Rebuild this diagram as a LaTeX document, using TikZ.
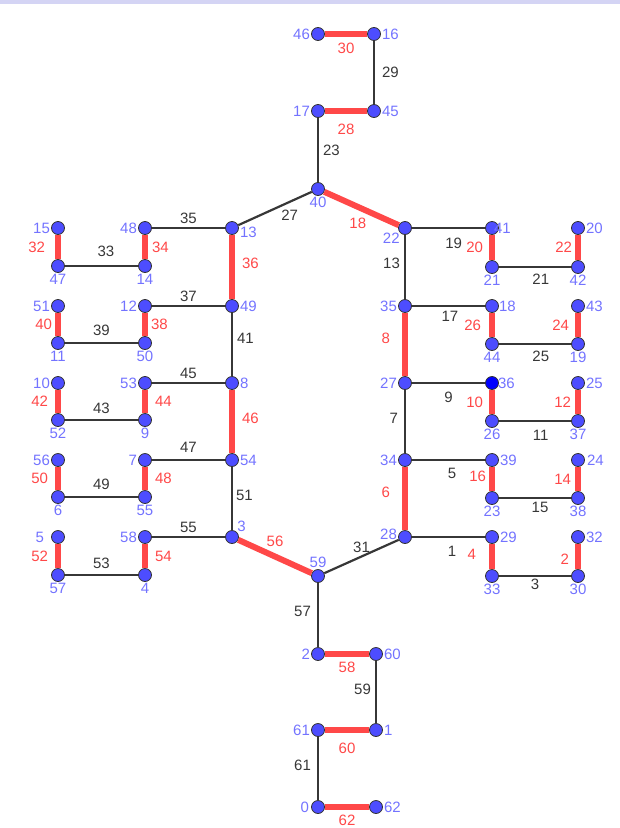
\documentclass[tikz,border=0pt]{standalone}
\usepackage{fontspec}
\setmainfont{Liberation Sans}
\definecolor{vblue}{RGB}{77,77,255}
\definecolor{lblue}{RGB}{115,115,255}
\definecolor{ered}{RGB}{255,72,72}
\definecolor{egray}{RGB}{55,55,55}
\definecolor{strip}{RGB}{212,212,244}
\begin{document}
\begin{tikzpicture}[x=1pt, y=-1pt,
  every node/.style={font=\fontsize{15}{17}\selectfont, inner sep=1pt},
  vertex/.style={circle, draw=black!80, fill=vblue, line width=0.8pt, minimum size=13pt, inner sep=0pt, label distance=3pt},
  vlab/.style={text=lblue},
  blackedge/.style={draw=egray, line width=2.2pt},
  rededge/.style={draw=ered, line width=6pt},
  blab/.style={text=egray},
  rlab/.style={text=ered}]
  \useasboundingbox (0,0) rectangle (620,828);
  \fill [strip] (0,0) rectangle (620,4);
  \node [vertex, label={[vlab]left:46}] (46) at (318,34) {};
  \node [vertex, label={[vlab]right:16}] (16) at (374,34) {};
  \node [vertex, label={[vlab]left:17}] (17) at (318,111) {};
  \node [vertex, label={[vlab]right:45}] (45) at (374,111) {};
  \node [vertex, label={[vlab]below:40}] (40) at (318,189) {};
  \node [vertex, label={[vlab,label distance=-1pt]below left:22}] (22) at (405,228) {};
  \node [vertex, label={[vlab,yshift=-4pt]right:13}] (13) at (232,228) {};
  \node [vertex, label={[vlab]right:49}] (49) at (232,306) {};
  \node [vertex, label={[vlab]right:8}] (8) at (232,383) {};
  \node [vertex, label={[vlab]right:54}] (54) at (232,460) {};
  \node [vertex, label={[vlab,label distance=-1pt]above right:3}] (3) at (232,537) {};
  \node [vertex, label={[vlab]left:48}] (48) at (145,228) {};
  \node [vertex, label={[vlab]below:14}] (14) at (145,266) {};
  \node [vertex, label={[vlab]left:12}] (12) at (145,306) {};
  \node [vertex, label={[vlab]below:50}] (50) at (145,343) {};
  \node [vertex, label={[vlab]left:53}] (53) at (145,383) {};
  \node [vertex, label={[vlab]below:9}] (9) at (145,420) {};
  \node [vertex, label={[vlab]left:7}] (7) at (145,460) {};
  \node [vertex, label={[vlab]below:55}] (55) at (145,497) {};
  \node [vertex, label={[vlab]left:58}] (58) at (145,537) {};
  \node [vertex, label={[vlab]below:4}] (4) at (145,575) {};
  \node [vertex, label={[vlab]left:15}] (15) at (58,228) {};
  \node [vertex, label={[vlab]below:47}] (47) at (58,266) {};
  \node [vertex, label={[vlab]left:51}] (51) at (58,306) {};
  \node [vertex, label={[vlab]below:11}] (11) at (58,343) {};
  \node [vertex, label={[vlab,label distance=0pt]left:10}] (10) at (58,383) {};
  \node [vertex, label={[vlab]below:52}] (52) at (58,420) {};
  \node [vertex, label={[vlab,label distance=0pt]left:56}] (56) at (58,460) {};
  \node [vertex, label={[vlab]below:6}] (6) at (58,497) {};
  \node [vertex, label={[vlab,label distance=6pt]left:5}] (5) at (58,537) {};
  \node [vertex, label={[vlab]below:57}] (57) at (58,575) {};
  \node [vertex, label={[vlab]left:35}] (35) at (405,306) {};
  \node [vertex, label={[vlab]left:27}] (27) at (405,383) {};
  \node [vertex, label={[vlab]left:34}] (34) at (405,460) {};
  \node [vertex, label={[vlab,yshift=3pt]left:28}] (28) at (405,537) {};
  \node [vertex, label={[vlab,label distance=-6pt]right:41}] (41) at (492,228) {};
  \node [vertex, label={[vlab]below:21}] (21) at (492,267) {};
  \node [vertex, label={[vlab,label distance=-1pt]right:18}] (18) at (492,306) {};
  \node [vertex, label={[vlab]below:44}] (44) at (492,344) {};
  \node [vertex, fill=blue, label={[vlab,label distance=-2pt]right:36}] (36) at (492,383) {};
  \node [vertex, label={[vlab]below:26}] (26) at (492,421) {};
  \node [vertex, label={[vlab]right:39}] (39) at (492,460) {};
  \node [vertex, label={[vlab]below:23}] (23) at (492,498) {};
  \node [vertex, label={[vlab]right:29}] (29) at (492,537) {};
  \node [vertex, label={[vlab]below:33}] (33) at (492,576) {};
  \node [vertex, label={[vlab]right:20}] (20) at (578,228) {};
  \node [vertex, label={[vlab]below:42}] (42) at (578,267) {};
  \node [vertex, label={[vlab]right:43}] (43) at (578,306) {};
  \node [vertex, label={[vlab]below:19}] (19) at (578,344) {};
  \node [vertex, label={[vlab]right:25}] (25) at (578,383) {};
  \node [vertex, label={[vlab]below:37}] (37) at (578,421) {};
  \node [vertex, label={[vlab,label distance=1pt]right:24}] (24) at (578,460) {};
  \node [vertex, label={[vlab]below:38}] (38) at (578,498) {};
  \node [vertex, label={[vlab]right:32}] (32) at (578,537) {};
  \node [vertex, label={[vlab]below:30}] (30) at (578,576) {};
  \node [vertex, label={[vlab]above:59}] (59) at (318,576) {};
  \node [vertex, label={[vlab]left:2}] (2) at (318,654) {};
  \node [vertex, label={[vlab]right:60}] (60) at (376,654) {};
  \node [vertex, label={[vlab]left:61}] (61) at (318,730) {};
  \node [vertex, label={[vlab]right:1}] (1) at (376,730) {};
  \node [vertex, label={[vlab,label distance=1pt]left:0}] (0) at (318,807) {};
  \node [vertex, label={[vlab]right:62}] (62) at (376,807) {};
  \draw [rededge] (46) -- node [rlab, below=5pt] {30} (16);
  \draw [blackedge] (16) -- node [blab, right=6pt] {29} (45);
  \draw [rededge] (17) -- node [rlab, below=9pt] {28} (45);
  \draw [blackedge] (17) -- node [blab, right=3pt] {23} (40);
  \draw [blackedge] (40) -- node [blab, pos=0.3, below=6pt] {27} (13);
  \draw [rededge] (40) -- node [rlab, pos=0.45, below=7pt] {18} (22);
  \draw [blackedge] (13) -- node [blab, above=2pt] {35} (48);
  \draw [rededge] (48) -- node [rlab, right=3pt] {34} (14);
  \draw [blackedge] (47) -- node [blab, pos=0.56, above=7pt] {33} (14);
  \draw [rededge] (15) -- node [rlab, left=9pt] {32} (47);
  \draw [rededge] (13) -- node [rlab, pos=0.45, right=6pt] {36} (49);
  \draw [blackedge] (12) -- node [blab, above=2pt] {37} (49);
  \draw [rededge] (12) -- node [rlab, right=2pt] {38} (50);
  \draw [blackedge] (11) -- node [blab, above=5pt] {39} (50);
  \draw [rededge] (51) -- node [rlab, left=2pt] {40} (11);
  \draw [blackedge] (49) -- node [blab, pos=0.4, right=3pt] {41} (8);
  \draw [blackedge] (53) -- node [blab, above=2pt] {45} (8);
  \draw [rededge] (53) -- node [rlab, right=6pt] {44} (9);
  \draw [blackedge] (52) -- node [blab, above=4pt] {43} (9);
  \draw [rededge] (10) -- node [rlab, left=6pt] {42} (52);
  \draw [rededge] (8) -- node [rlab, pos=0.45, right=6pt] {46} (54);
  \draw [blackedge] (7) -- node [blab, above=5pt] {47} (54);
  \draw [rededge] (7) -- node [rlab, right=6pt] {48} (55);
  \draw [blackedge] (6) -- node [blab, above=5pt] {49} (55);
  \draw [rededge] (56) -- node [rlab, left=6pt] {50} (6);
  \draw [blackedge] (54) -- node [blab, pos=0.45, right=2pt] {51} (3);
  \draw [blackedge] (58) -- node [blab, above=2pt] {55} (3);
  \draw [rededge] (58) -- node [rlab, right=6pt] {54} (4);
  \draw [blackedge] (57) -- node [blab, above=4pt] {53} (4);
  \draw [rededge] (5) -- node [rlab, left=6pt] {52} (57);
  \draw [rededge] (3) -- node [rlab, above=6pt] {56} (59);
  \draw [blackedge] (59) -- node [blab, above=2pt] {31} (28);
  \draw [blackedge] (22) -- node [blab, pos=0.45, left=3pt] {13} (35);
  \draw [blackedge] (22) -- node [blab, pos=0.57, below=8pt] {19} (41);
  \draw [rededge] (41) -- node [rlab, left=5pt] {20} (21);
  \draw [blackedge] (21) -- node [blab, pos=0.58, below=5pt] {21} (42);
  \draw [rededge] (20) -- node [rlab, left=2pt] {22} (42);
  \draw [rededge] (35) -- node [rlab, pos=0.4, left=11pt] {8} (27);
  \draw [blackedge] (35) -- node [blab, pos=0.52, below=3pt] {17} (18);
  \draw [rededge] (18) -- node [rlab, left=7pt] {26} (44);
  \draw [blackedge] (44) -- node [blab, pos=0.58, below=5pt] {25} (19);
  \draw [rededge] (43) -- node [rlab, left=5pt] {24} (19);
  \draw [blackedge] (27) -- node [blab, below=7pt] {9} (36);
  \draw [rededge] (36) -- node [rlab, left=5pt] {10} (26);
  \draw [blackedge] (26) -- node [blab, pos=0.58, below=7pt] {11} (37);
  \draw [rededge] (25) -- node [rlab, left=3pt] {12} (37);
  \draw [blackedge] (27) -- node [blab, pos=0.45, left=5pt] {7} (34);
  \draw [blackedge] (34) -- node [blab, pos=0.55, below=6pt] {5} (39);
  \draw [rededge] (39) -- node [rlab, pos=0.37, left=2pt] {16} (23);
  \draw [blackedge] (23) -- node [blab, pos=0.57, below=2pt] {15} (38);
  \draw [rededge] (24) -- node [rlab, left=3pt] {14} (38);
  \draw [rededge] (34) -- node [rlab, pos=0.4, left=11pt] {6} (28);
  \draw [blackedge] (28) -- node [blab, pos=0.55, below=7pt] {1} (29);
  \draw [rededge] (29) -- node [rlab, pos=0.4, left=12pt] {4} (33);
  \draw [blackedge] (33) -- node [blab, pos=0.5, below=1pt] {3} (30);
  \draw [rededge] (32) -- node [rlab, pos=0.6, left=5pt] {2} (30);
  \draw [blackedge] (59) -- node [blab, pos=0.45, left=5pt] {57} (2);
  \draw [rededge] (2) -- node [rlab, below=4pt] {58} (60);
  \draw [blackedge] (60) -- node [blab, pos=0.45, left=3pt] {59} (1);
  \draw [rededge] (61) -- node [rlab, below=9pt] {60} (1);
  \draw [blackedge] (61) -- node [blab, pos=0.45, left=5pt] {61} (0);
  \draw [rededge] (0) -- node [rlab, below=4pt] {62} (62);
\end{tikzpicture}
\end{document}
